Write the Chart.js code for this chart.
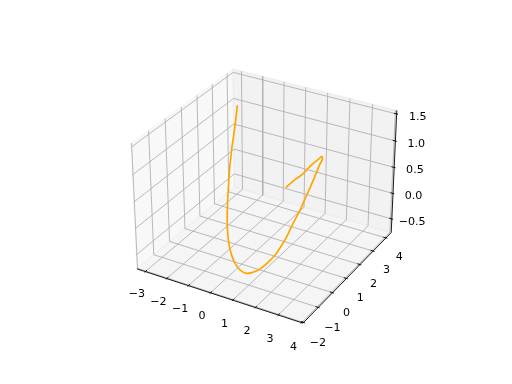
<!DOCTYPE html>
<html><head><meta charset="utf-8">
<script src="https://cdn.jsdelivr.net/npm/chart.js@4.4.0/dist/chart.umd.min.js"></script>
<style>html,body{margin:0;padding:0;background:#fff;}#wrap{width:512px;height:384px;}</style>
</head><body><div id="wrap"><canvas id="c" width="512" height="384"></canvas></div>
<script>
// ---- data ----
const xData = [-1.74,-1.69,-1.65,-1.62,-1.59,-1.52,-1.43,-1.31,-1.18,-1.03,-0.86,-0.67,-0.49,-0.24,0.00,0.28,0.53,0.73,0.94,1.08,1.25,1.39,1.50,1.57,1.62,1.70,1.69,1.71,1.67,1.64,1.55,1.37,1.23,1.05,0.92,0.78,0.67,0.56,0.42,0.26,0.13,0.03];
const yData = [2.3,2.15,2.0,1.85,1.7,1.5,1.3,1.05,0.8,0.55,0.3,0.08,-0.1,-0.3,-0.45,-0.58,-0.68,-0.74,-0.75,-0.7,-0.62,-0.5,-0.32,-0.1,0.2,0.5,0.95,1.4,1.8,2.2,2.7,3.3,3.75,4.0,3.92,3.8,3.67,3.55,3.42,3.3,3.15,3.0];
const zData = [1.49,1.33,1.17,1.01,0.85,0.67,0.54,0.33,0.12,-0.05,-0.23,-0.37,-0.47,-0.56,-0.63,-0.67,-0.67,-0.65,-0.61,-0.58,-0.53,-0.47,-0.41,-0.36,-0.28,-0.15,-0.01,0.13,0.24,0.35,0.45,0.49,0.49,0.46,0.40,0.34,0.28,0.21,0.14,0.08,0.02,-0.03];
const xTicks = [-3,-2,-1,0,1,2,3,4];
const yTicks = [-2,-1,0,1,2,3,4];
const zTicks = [-0.5,0,0.5,1,1.5];
const xTickLabels = ['\u22123','\u22122','\u22121','0','1','2','3','4'];
const yTickLabels = ['\u22122','\u22121','0','1','2','3','4'];
const zTickLabels = ['\u22120.5','0.0','0.5','1.0','1.5'];
const xLim = [-3.248, 3.909];
const yLim = [-1.910, 4.287];
const zLim = [-0.723, 1.518];

// ---- view (matplotlib default 3D camera) ----
const ELEV = 30, AZIM = -60, DIST = 10;
const nrm = Math.hypot(4,4,3);
const ASPECT = [4,4,3].map(v => v*1.8294640721620434/nrm);
const LIMS = [xLim, yLim, zLim];
const er = ELEV*Math.PI/180, ar = AZIM*Math.PI/180;
const W = [Math.cos(er)*Math.cos(ar), Math.cos(er)*Math.sin(ar), Math.sin(er)];
const R = ASPECT.map(a => a/2);
const EYE = R.map((r,i) => r + DIST*W[i]);
function cross(a,b){return [a[1]*b[2]-a[2]*b[1], a[2]*b[0]-a[0]*b[2], a[0]*b[1]-a[1]*b[0]];}
function dot(a,b){return a[0]*b[0]+a[1]*b[1]+a[2]*b[2];}
let U = cross([0,0,1], W); const un = Math.hypot(...U); U = U.map(v=>v/un);
const V = cross(W, U);
function toWorld(p){return p.map((v,i)=>(v-LIMS[i][0])/(LIMS[i][1]-LIMS[i][0])*ASPECT[i]);}
function projW(q){
  const d = [q[0]-EYE[0], q[1]-EYE[1], q[2]-EYE[2]];
  const zv = dot(W,d);
  return {x: dot(U,d)/(-zv), y: dot(V,d)/(-zv)};
}
function proj(p){return projW(toWorld(p));}
const LO = ASPECT.map(a => -a/48), HI = ASPECT.map(a => a + a/48);
const DEL = ASPECT.map(a => a/12);
const LD = DEL.map(d => d*1.0372);

// ---- build datasets ----
const datasets = [];
const curvePts = xData.map((x,i)=>proj([x, yData[i], zData[i]]));
datasets.push({data: curvePts, showLine:true, pointRadius:0, borderColor:'#ffa500', borderWidth:1.67, tension:0.15, order:0, clip:false, borderCapStyle:'butt', borderJoinStyle:'round'});
function seg(ptsW, color, width, order){
  datasets.push({data: ptsW.map(projW), showLine:true, pointRadius:0, borderColor:color, borderWidth:width, tension:0, order:order, clip:false});
}
const GRID = '#b0b0b0', GW = 0.89;
xTicks.forEach(t => { const a = toWorld([t,0,0])[0];
  seg([[a,HI[1],HI[2]],[a,HI[1],LO[2]],[a,LO[1],LO[2]]], GRID, GW, 3); });
yTicks.forEach(t => { const a = toWorld([0,t,0])[1];
  seg([[LO[0],a,HI[2]],[LO[0],a,LO[2]],[HI[0],a,LO[2]]], GRID, GW, 3); });
zTicks.forEach(t => { const a = toWorld([0,0,t])[2];
  seg([[HI[0],HI[1],a],[LO[0],HI[1],a],[LO[0],LO[1],a]], GRID, GW, 3); });
// axis lines
seg([[LO[0],LO[1],LO[2]],[HI[0],LO[1],LO[2]]], '#000', 0.89, 1);
seg([[HI[0],LO[1],LO[2]],[HI[0],HI[1],LO[2]]], '#000', 0.89, 1);
seg([[HI[0],HI[1],LO[2]],[HI[0],HI[1],HI[2]]], '#000', 0.89, 1);
// tick marks
xTicks.forEach(t => { const a = toWorld([t,0,0])[0];
  seg([[a,LO[1]-0.1*DEL[1],LO[2]],[a,LO[1]+0.2*DEL[1],LO[2]]], '#000', 0.89, 1); });
yTicks.forEach(t => { const a = toWorld([0,t,0])[1];
  seg([[HI[0]+0.1*DEL[0],a,LO[2]],[HI[0]-0.2*DEL[0],a,LO[2]]], '#000', 0.89, 1); });
zTicks.forEach(t => { const a = toWorld([0,0,t])[2];
  seg([[HI[0]+0.1*DEL[0],HI[1],a],[HI[0]-0.2*DEL[0],HI[1],a]], '#000', 0.89, 1); });

// panes
const PANES = [
  {pts:[[LO[0],LO[1],LO[2]],[LO[0],HI[1],LO[2]],[LO[0],HI[1],HI[2]],[LO[0],LO[1],HI[2]]], c:'rgba(242,242,242,0.5)'},
  {pts:[[LO[0],HI[1],LO[2]],[HI[0],HI[1],LO[2]],[HI[0],HI[1],HI[2]],[LO[0],HI[1],HI[2]]], c:'rgba(230,230,230,0.5)'},
  {pts:[[LO[0],LO[1],LO[2]],[HI[0],LO[1],LO[2]],[HI[0],HI[1],LO[2]],[LO[0],HI[1],LO[2]]], c:'rgba(236,236,236,0.5)'}
];
const panePlugin = {id:'panes', beforeDatasetsDraw(chart){
  const ctx = chart.ctx, sx = chart.scales.x, sy = chart.scales.y;
  ctx.save();
  PANES.forEach(p => {
    ctx.beginPath();
    p.pts.forEach((q,i) => { const r = projW(q); const X = sx.getPixelForValue(r.x), Y = sy.getPixelForValue(r.y);
      if(i===0) ctx.moveTo(X,Y); else ctx.lineTo(X,Y); });
    ctx.closePath();
    ctx.fillStyle = p.c; ctx.fill();
    ctx.strokeStyle = p.c; ctx.lineWidth = 1.11; ctx.stroke();
  });
  ctx.restore();
}};
const labelPlugin = {id:'ticklabels', afterDatasetsDraw(chart){
  const ctx = chart.ctx, sx = chart.scales.x, sy = chart.scales.y;
  ctx.save();
  ctx.font = '11.1px "DejaVu Sans"'; ctx.fillStyle = '#000';
  ctx.textAlign = 'center'; ctx.textBaseline = 'top';
  const put = (q, s) => { const r = projW(q); ctx.fillText(s, sx.getPixelForValue(r.x), sy.getPixelForValue(r.y)); };
  xTicks.forEach((t,i) => put([toWorld([t,0,0])[0], LO[1]-LD[1], LO[2]-LD[2]], xTickLabels[i]));
  yTicks.forEach((t,i) => put([HI[0]+LD[0], toWorld([0,t,0])[1], LO[2]-LD[2]], yTickLabels[i]));
  zTicks.forEach((t,i) => put([HI[0]+LD[0], HI[1]+LD[1], toWorld([0,0,t])[2]], zTickLabels[i]));
  ctx.restore();
}};

// 2D frame of the 3D axes (square box centred in the default subplot)
const AX_L = 114.56, AX_T = 46.08, AX_S = 295.68, VLO = -0.095, VHI = 0.09, VR = VHI - VLO;
const xMin = VLO - AX_L/AX_S*VR, xMax = VLO + (512-AX_L)/AX_S*VR;
const yMax = VHI + AX_T/AX_S*VR, yMin = VHI - (384-AX_T)/AX_S*VR;

new Chart(document.getElementById('c'), {
  type:'scatter',
  data:{datasets},
  options:{responsive:false, animation:false, events:[],
    layout:{padding:0},
    plugins:{legend:{display:false}, tooltip:{enabled:false}},
    scales:{x:{type:'linear', display:false, min:xMin, max:xMax},
            y:{type:'linear', display:false, min:yMin, max:yMax}}},
  plugins:[panePlugin, labelPlugin]
});
</script></body></html>
